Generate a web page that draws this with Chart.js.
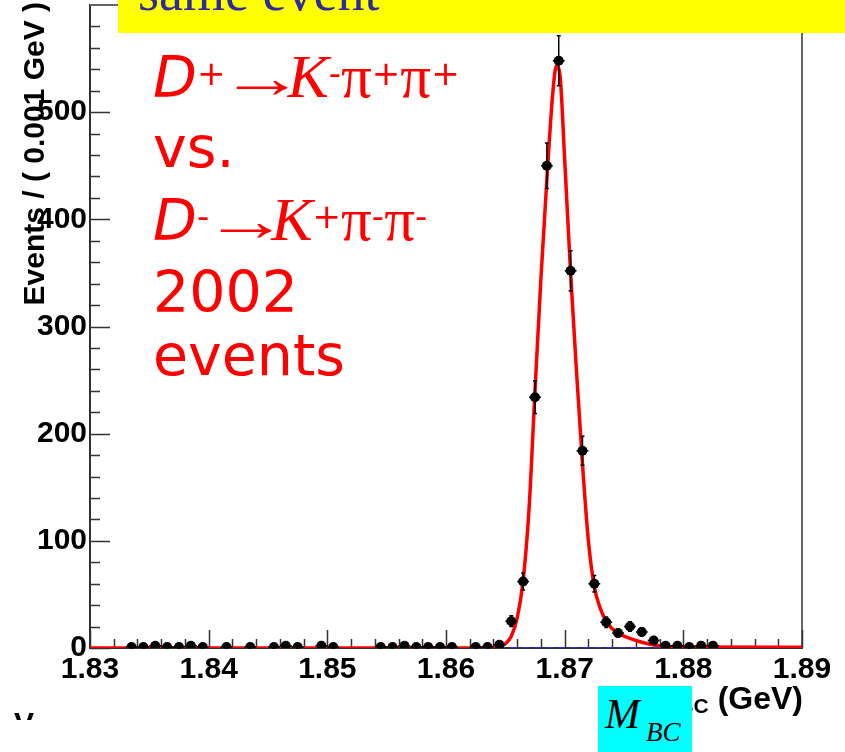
<!DOCTYPE html>
<html>
<head>
<meta charset="utf-8">
<script src="https://cdn.jsdelivr.net/npm/chart.js@4.4.0/dist/chart.umd.min.js"></script>
<style>
  html, body { margin: 0; padding: 0; background: #fff; }
  #wrap { position: relative; width: 845px; height: 752px; overflow: hidden; }
  #c { position: absolute; left: 0; top: 0; }
  .red { position: absolute; color: #ff0000; font-family: "DejaVu Sans"; font-size: 57px; line-height: 1; white-space: nowrap; }
  .serif { font-family: "Liberation Serif"; }
  .it { font-style: italic; }
  .sup { font-family: "DejaVu Sans"; font-style: normal; font-size: 34px; position: relative; top: -12px; }
  .arr { font-family: "Liberation Serif"; display: inline-block; width: 68px; margin-left: -6px; transform: scaleX(1.5); transform-origin: left; line-height: 0; }
  .kk { font-family: "Liberation Serif"; font-style: italic; font-size: 62px; line-height: 0; }
  .pi { font-family: "Liberation Serif"; font-size: 61px; line-height: 0; }
  .abs { position: absolute; line-height: 1; white-space: nowrap; }
</style>
</head>
<body>
<div id="wrap">
  <canvas id="c" width="845" height="752"></canvas>

  <!-- yellow banner, text cut at the top -->
  <div class="abs" style="left:118px;top:0;width:727px;height:33px;background:#ffff00;overflow:hidden;">
    <span class="abs serif" style="left:20px;top:-35px;font-size:54px;color:#2b2b9f;">same event</span>
  </div>

  <div class="red" style="left:153px;top:49px"><span class="it">D</span><span class="sup">+</span><span class="arr">→</span><span class="kk">K</span><span class="sup">-</span><span class="pi">π</span><span class="sup">+</span><span class="pi">π</span><span class="sup">+</span></div>
  <div class="red" style="left:153px;top:119px">vs.</div>
  <div class="red" style="left:153px;top:192px"><span class="it">D</span><span class="sup">-</span><span class="arr">→</span><span class="kk">K</span><span class="sup">+</span><span class="pi">π</span><span class="sup">-</span><span class="pi">π</span><span class="sup">-</span></div>
  <div class="red" style="left:153px;top:264px">2002</div>
  <div class="red" style="left:153px;top:327px">events</div>

  <!-- cyan label box -->
  <div class="abs" style="left:598px;top:686px;width:94px;height:66px;background:#00ffff;">
    <span class="abs serif it" style="left:7px;top:7px;font-size:42px;color:#000;">M</span>
    <span class="abs serif it" style="left:48px;top:33px;font-size:27px;color:#000;">BC</span>
  </div>

  <!-- fragment of a letter at bottom left -->
  <div class="abs" style="left:14px;top:711px;width:32px;height:9px;overflow:hidden;">
    <span class="abs" style="left:0;top:-3px;font-family:'Liberation Sans';font-weight:bold;font-size:30px;color:#000;">V</span>
  </div>
</div>

<script>
// bin centres (GeV) and entries, 0.001 GeV bins, empty bins left out
const massBins = [
  1.8335, 1.8345, 1.8355, 1.8365, 1.8375, 1.8385, 1.8395,
  1.8415, 1.8435, 1.8455, 1.8465, 1.8475, 1.8495, 1.8505,
  1.8545, 1.8555, 1.8565, 1.8575, 1.8585, 1.8595, 1.8605,
  1.8625, 1.8635, 1.8645, 1.8655, 1.8665, 1.8675, 1.8685, 1.8695,
  1.8705, 1.8715, 1.8725, 1.8735, 1.8745, 1.8755, 1.8765, 1.8775,
  1.8785, 1.8795, 1.8805, 1.8815, 1.8825
];
const eventCounts = [
  1, 1, 2, 1, 1, 2, 1,
  1, 1, 1, 2, 1, 2, 1,
  1, 1, 2, 1, 1, 1, 1,
  1, 1, 3, 25, 62, 234, 450, 548,
  352, 184, 60, 24, 14, 20, 15, 7,
  2, 2, 1, 2, 2
];

// fitted curve
const fitMass = [
  1.8300, 1.8635, 1.8640, 1.8645, 1.8650, 1.8655, 1.8660, 1.8665, 1.8670,
  1.8675, 1.8680, 1.8685, 1.8690, 1.8693, 1.8696, 1.8700, 1.8705, 1.8710,
  1.8715, 1.8720, 1.8725, 1.8730, 1.8735, 1.8740, 1.8745, 1.8750, 1.8755,
  1.8760, 1.8770, 1.8780, 1.8790, 1.8800, 1.8900
];
const fitValues = [
  0, 0, 0.3, 1.2, 4, 11, 28, 63, 130,
  240, 345, 437, 518, 543, 535, 456, 350, 258,
  172, 100, 57, 37, 25, 18, 14, 11, 9,
  7, 4, 2, 1.2, 1, 0.8
];

// background component (flat at zero)
const bkgMass = [1.83, 1.89];
const bkgValues = [0, 0];

const xTicks = [1.83, 1.84, 1.85, 1.86, 1.87, 1.88, 1.89];
const yTicks = [0, 100, 200, 300, 400, 500];
const binHalf = 0.0005;

const AXIS = '#333';

const rootAxes = {
  id: 'rootAxes',
  beforeDatasetsDraw(chart) {
    const { ctx, chartArea: a, scales: { x, y } } = chart;
    ctx.save();
    // frame top / right
    ctx.strokeStyle = '#666';
    ctx.lineWidth = 2;
    ctx.beginPath();
    ctx.moveTo(a.left, a.top); ctx.lineTo(a.right, a.top); ctx.lineTo(a.right, a.bottom);
    ctx.stroke();
    // inner ticks
    ctx.strokeStyle = AXIS;
    ctx.lineWidth = 1.5;
    ctx.beginPath();
    for (let v = 0; v < 600; v += 20) {
      const py = Math.round(y.getPixelForValue(v)) + 0.5;
      const len = v % 100 === 0 ? 20 : 10;
      ctx.moveTo(a.left, py); ctx.lineTo(a.left + len, py);
    }
    for (let k = 0; k <= 30; k++) {
      const m = 1.83 + k * 0.002;
      const px = Math.round(x.getPixelForValue(m)) + 0.5;
      const len = k % 5 === 0 ? 18 : 9;
      ctx.moveTo(px, a.bottom); ctx.lineTo(px, a.bottom - len);
    }
    ctx.stroke();
    ctx.restore();
  },
  afterDatasetsDraw(chart) {
    const { ctx, scales: { x, y } } = chart;
    ctx.save();
    ctx.strokeStyle = '#000';
    ctx.lineWidth = 1.5;
    ctx.beginPath();
    massBins.forEach((m, i) => {
      const n = eventCounts[i];
      const e = Math.sqrt(n);
      const px = x.getPixelForValue(m);
      const pyHi = y.getPixelForValue(n + e);
      const pyLo = y.getPixelForValue(Math.max(n - e, 0));
      const py = y.getPixelForValue(n);
      ctx.moveTo(px, pyHi); ctx.lineTo(px, pyLo);
      ctx.moveTo(px - 2, pyHi); ctx.lineTo(px + 2, pyHi);
      ctx.moveTo(px - 2, pyLo); ctx.lineTo(px + 2, pyLo);
      ctx.moveTo(x.getPixelForValue(m - binHalf), py); ctx.lineTo(x.getPixelForValue(m + binHalf), py);
    });
    ctx.stroke();
    ctx.restore();
  },
  afterDraw(chart) {
    const { ctx, chartArea: a } = chart;
    ctx.save();
    ctx.fillStyle = '#000';
    // y title
    ctx.font = 'bold 30px "Liberation Sans"';
    ctx.translate(44, a.top - 3);
    ctx.rotate(-Math.PI / 2);
    ctx.textAlign = 'right';
    ctx.fillText('Events / ( 0.001 GeV )', 0, 0);
    ctx.restore();
    // x title, right aligned to the axis end
    ctx.save();
    ctx.fillStyle = '#000';
    ctx.textAlign = 'left';
    ctx.font = 'bold 32px "Liberation Sans"';
    const unit = ' (GeV)';
    const wUnit = ctx.measureText(unit).width;
    ctx.font = 'bold 21px "Liberation Sans"';
    const wSub = ctx.measureText('BC').width;
    ctx.font = 'bold 32px "Liberation Sans"';
    const wM = ctx.measureText('M').width;
    const xs = a.right + 1 - wUnit - wSub - wM;
    ctx.fillText('M', xs, 709);
    ctx.font = 'bold 21px "Liberation Sans"';
    ctx.fillText('BC', xs + wM, 713);
    ctx.font = 'bold 32px "Liberation Sans"';
    ctx.fillText(unit, xs + wM + wSub, 709);
    ctx.restore();
  }
};

const tickFont = { family: 'Liberation Sans', size: 30, weight: 'bold' };

new Chart(document.getElementById('c'), {
  type: 'scatter',
  data: {
    datasets: [
      {
        label: 'data',
        data: massBins.map((m, i) => ({ x: m, y: eventCounts[i] })),
        backgroundColor: '#000',
        borderWidth: 0,
        pointRadius: 5,
        pointHoverRadius: 5,
        order: 1
      },
      {
        type: 'line',
        label: 'fit',
        data: fitMass.map((m, i) => ({ x: m, y: fitValues[i] })),
        borderColor: '#ff0000',
        borderWidth: 3.5,
        pointRadius: 0,
        cubicInterpolationMode: 'monotone',
        fill: false,
        order: 2
      },
      {
        type: 'line',
        label: 'background',
        data: bkgMass.map((m, i) => ({ x: m, y: bkgValues[i] })),
        borderColor: '#2a2aff',
        borderWidth: 2,
        borderDash: [7, 5],
        pointRadius: 0,
        fill: false,
        order: 3
      }
    ]
  },
  options: {
    responsive: false,
    animation: false,
    devicePixelRatio: 1,
    layout: { padding: { top: 5, right: 43, left: 0, bottom: 0 } },
    plugins: { legend: { display: false }, tooltip: { enabled: false } },
    scales: {
      x: {
        type: 'linear',
        min: 1.83,
        max: 1.89,
        afterBuildTicks: s => { s.ticks = xTicks.map(v => ({ value: v })); },
        afterFit: s => { s.height = 104; s.paddingLeft = 0; s.paddingRight = 0; },
        grid: { display: false, drawTicks: false },
        border: { display: true, color: AXIS, width: 2 },
        ticks: {
          color: '#000',
          font: tickFont,
          padding: 4,
          maxRotation: 0,
          autoSkip: false,
          callback: v => v.toFixed(2)
        }
      },
      y: {
        min: 0,
        max: 600,
        afterBuildTicks: s => { s.ticks = yTicks.map(v => ({ value: v })); },
        afterFit: s => { s.width = 90; s.paddingTop = 0; s.paddingBottom = 0; },
        grid: { display: false, drawTicks: false },
        border: { display: true, color: AXIS, width: 2 },
        ticks: {
          color: '#000',
          font: tickFont,
          padding: 3,
          callback: v => String(v)
        }
      }
    }
  },
  plugins: [rootAxes]
});
</script>
</body>
</html>
